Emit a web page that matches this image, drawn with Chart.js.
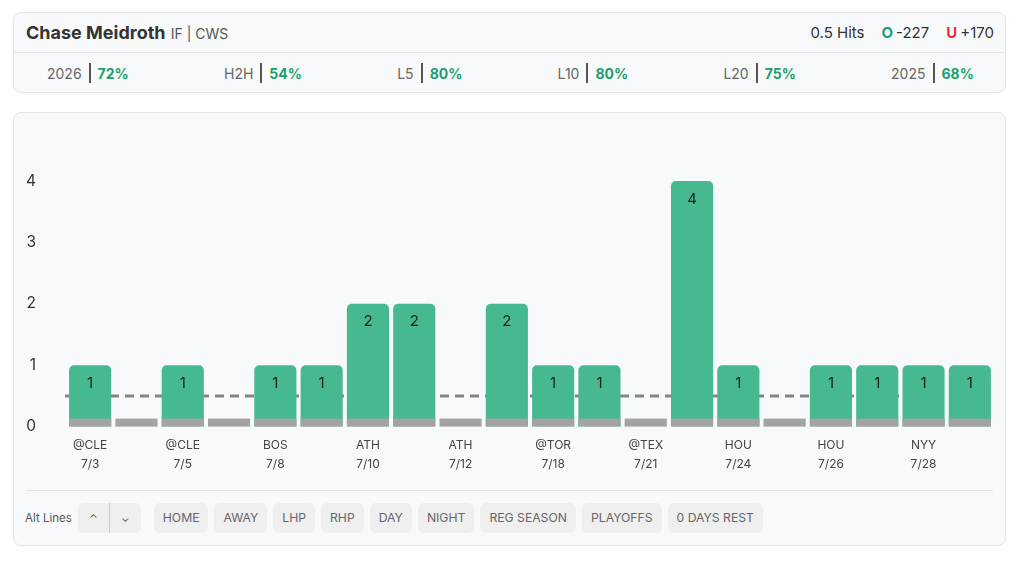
<!DOCTYPE html>
<html>
<head>
<meta charset="utf-8">
<script src="https://cdn.jsdelivr.net/npm/chart.js@4"></script>
<style>
  body { margin: 0; background: #fff; font-family: Inter, "Noto Sans", sans-serif; color: #333; }
  .card { position: absolute; left: 13px; width: 993px; background: #f8f9fa; border: 1px solid #e2e4e7; border-radius: 8px; box-sizing: border-box; }
  #head { top: 12px; height: 81px; }
  .top { height: 39px; border-bottom: 1px solid #e2e4e7; display: flex; align-items: center; justify-content: space-between; padding: 0 11px 0 12px; }
  .name { font-weight: 700; font-size: 18px; color: #333; }
  .team { font-size: 14px; color: #555; font-weight: 400; margin-left: 1px; }
  .line { font-size: 15px; color: #333; }
  .line .g { margin-left: 17px; }
  .o { color: #1e9e6e; font-weight: 700; margin-right: 3px; }
  .u { color: #e0333f; font-weight: 700; margin-right: 3px; }
  .stats { display: flex; justify-content: space-between; align-items: center; height: 40px; padding: 0 31px 0 33px; font-size: 14px; }
  .stat { display: flex; align-items: center; color: #666; }
  .stat b { color: #1e9e6e; font-weight: 700; }
  .bar { width: 2px; height: 20px; background: #555; margin: 0 7px; }
  #box { top: 112px; height: 434px; }
  #wrap { position: absolute; left: 0; top: 0; width: 993px; height: 372px; }
  .rule { position: absolute; left: 12px; right: 12px; top: 377px; border-top: 1px solid #e2e4e7; }
  .btns { position: absolute; left: 11px; top: 390px; display: flex; align-items: center; font-size: 12.2px; color: #555; }
  .btns .lbl { font-size: 11.5px; color: #555; margin-right: 6px; }
  .btn { background: #efefef; border-radius: 6px; height: 30px; line-height: 30px; padding: 0 9px; margin-right: 6px; color: #666; }
  .pair { display: flex; background: #efefef; border-radius: 6px; height: 30px; margin-right: 13px; }
  .pair div { width: 31px; text-align: center; line-height: 30px; font-size: 11px; color: #555; }
  .pair div:first-child { border-right: 1px solid #ccc; }
</style>
</head>
<body>
<div class="card" id="head">
  <div class="top">
    <div class="name">Chase Meidroth <span class="team">IF | CWS</span></div>
    <div class="line">0.5 Hits<span class="g"><span class="o">O</span>-227</span><span class="g"><span class="u">U</span>+170</span></div>
  </div>
  <div class="stats">
    <div class="stat">2026<div class="bar"></div><b>72%</b></div>
    <div class="stat">H2H<div class="bar"></div><b>54%</b></div>
    <div class="stat">L5<div class="bar"></div><b>80%</b></div>
    <div class="stat">L10<div class="bar"></div><b>80%</b></div>
    <div class="stat">L20<div class="bar"></div><b>75%</b></div>
    <div class="stat">2025<div class="bar"></div><b>68%</b></div>
  </div>
</div>
<div class="card" id="box">
  <div id="wrap"><canvas id="chart"></canvas></div>
  <div class="rule"></div>
  <div class="btns">
    <span class="lbl">Alt Lines</span>
    <div class="pair"><div>&#8963;</div><div>&#8964;</div></div>
    <div class="btn">HOME</div><div class="btn">AWAY</div><div class="btn">LHP</div><div class="btn">RHP</div>
    <div class="btn">DAY</div><div class="btn">NIGHT</div><div class="btn">REG SEASON</div>
    <div class="btn">PLAYOFFS</div><div class="btn">0 DAYS REST</div>
  </div>
</div>
<script>
const opponents = ['@CLE', '@CLE', '@CLE', '@CLE', 'BOS', 'BOS', 'ATH', 'ATH', 'ATH', 'ATH',
                   '@TOR', '@TOR', '@TEX', '@TEX', 'HOU', 'HOU', 'HOU', 'HOU', 'NYY', 'NYY'];
const dates = ['7/3', '7/4', '7/5', '7/6', '7/8', '7/9', '7/10', '7/11', '7/12', '7/13',
               '7/18', '7/19', '7/21', '7/22', '7/24', '7/25', '7/26', '7/27', '7/28', '7/29'];
const hits = [1, 0, 1, 0, 1, 1, 2, 2, 0, 2, 1, 1, 0, 4, 1, 0, 1, 1, 1, 1];
const propLine = 0.5;
const yTicks = [0, 1, 2, 3, 4];

const labels = opponents.map((o, i) => [o, dates[i]]);

// dashed prop line behind the bars
const lineBehind = {
  id: 'lineBehind',
  beforeDatasetsDraw(chart) {
    const { ctx, chartArea, scales } = chart;
    const y = scales.y.getPixelForValue(propLine);
    ctx.save();
    ctx.strokeStyle = '#858585';
    ctx.lineWidth = 3;
    ctx.setLineDash([9, 6]);
    ctx.beginPath();
    ctx.moveTo(chartArea.left - 2, y);
    ctx.lineTo(chartArea.right, y);
    ctx.stroke();
    ctx.restore();
  }
};

// gray base under each bar + value labels
const barExtras = {
  id: 'barExtras',
  afterDatasetsDraw(chart) {
    const { ctx, scales } = chart;
    const meta = chart.getDatasetMeta(0);
    const y0 = scales.y.getPixelForValue(0);
    ctx.save();
    meta.data.forEach((bar, i) => {
      ctx.fillStyle = '#a3a3a3';
      ctx.fillRect(bar.x - bar.width / 2, y0 - 8, bar.width, 8);
      if (hits[i] > 0) {
        ctx.fillStyle = '#1f1f1f';
        ctx.font = '15px Inter, sans-serif';
        ctx.textAlign = 'center';
        ctx.textBaseline = 'middle';
        ctx.fillText(hits[i], bar.x, bar.y + 18);
      }
    });
    ctx.restore();
  }
};

new Chart(document.getElementById('chart'), {
  type: 'bar',
  data: {
    labels: labels,
    datasets: [{
      data: hits,
      backgroundColor: '#47b991',
      borderRadius: { topLeft: 5, topRight: 5 },
      borderSkipped: 'start',
      barPercentage: 0.91,
      categoryPercentage: 1
    }]
  },
  options: {
    responsive: true,
    maintainAspectRatio: false,
    animation: false,
    layout: { padding: { top: 68, left: 12, right: 14, bottom: 2 } },
    plugins: { legend: { display: false }, tooltip: { enabled: false } },
    scales: {
      x: {
        grid: { display: false, drawTicks: false },
        border: { display: false },
        ticks: {
          autoSkip: true, maxTicksLimit: 10, maxRotation: 0, padding: 9,
          color: '#444', font: { family: 'Inter, sans-serif', size: 12, lineHeight: 1.6 }
        }
      },
      y: {
        min: 0, max: 4,
        grid: { display: false, drawTicks: false },
        border: { display: false },
        afterBuildTicks(axis) { axis.ticks = yTicks.map(v => ({ value: v })); },
        afterFit(axis) { axis.width = 41; },
        ticks: { padding: 31, color: '#333', font: { family: 'Inter, sans-serif', size: 15.5 } }
      }
    }
  },
  plugins: [lineBehind, barExtras]
});
</script>
</body>
</html>
